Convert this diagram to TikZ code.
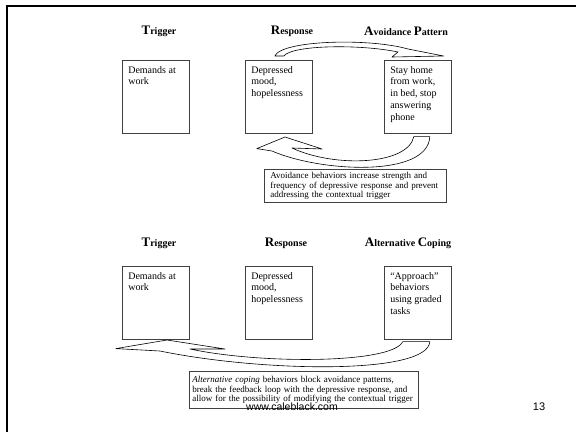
\documentclass[tikz,border=0pt]{standalone}
\usepackage{fontspec}
\setmainfont{Liberation Serif}
\newfontfamily\urlfont{Liberation Sans}
\usetikzlibrary{positioning,calc}

\newcommand{\capl}[1]{{\fontsize{13}{13}\selectfont #1}}
\newcommand{\cardtext}[1]{\parbox[t][61pt][t]{55pt}{\raggedright #1}}

\tikzset{
  head/.style={font=\fontsize{10}{12}\selectfont\bfseries},
  card/.style={draw=black!75, line width=0.6pt, anchor=north west, inner sep=6pt,
    font=\fontsize{10}{11.7}\selectfont},
  note/.style={draw=black!75, line width=0.6pt, anchor=north west, inner xsep=6pt,
    inner ysep=3pt, align=left, font=\fontsize{9}{9.5}\selectfont},
  looparrow/.style={draw=black, line width=0.6pt, fill=white, line join=round},
}

\begin{document}
\begin{tikzpicture}[x=1pt,y=-1pt]
  \useasboundingbox (0,0) rectangle (576,432);
  \draw[line width=2pt] (576,5.5) -- (6.5,5.5) -- (6.5,432);

  \node[head] (trighd1) at (159,31) {\capl{T}rigger};
  \node[head] (resphd1) at (292,31) {\capl{R}esponse};
  \node[head] (avoidhd) at (406,31) {\capl{A}voidance \capl{P}attern};
  \node[card] (trig1) at (122,60) {\cardtext{Demands at\\work}};
  \node[card] (resp1) at (245,60) {\cardtext{Depressed\\mood,\\hopelessness}};
  \node[card] (avoid1) at (384,60) {\cardtext{Stay home\\from work,\\in bed, stop\\answering\\phone}};

  \draw[looparrow] ($(resp1.north)+(-4,-4)$) .. controls (282,40) and (370,38) .. (408,49)
    -- ($(avoid1.north east)+(-8,-4)$) -- (392,57) -- (398,52)
    .. controls (360,44) and (292,45) .. ($(resp1.north)+(5,-4)$) -- cycle;
  \draw[looparrow] ($(resp1.south)+(-22,15)$) -- (285,137) -- (322,149) -- (292,148)
    .. controls (335,168) and (408,165) .. ($(avoid1.south)+(-4,3)$)
    -- ($(avoid1.south)+(12,3)$)
    .. controls (428,178) and (320,172) .. (272,151) -- cycle;

  \node[note, text width=170pt] (note1) at (264,169)
    {Avoidance behaviors increase strength and\\frequency of depressive response and prevent\\addressing the contextual trigger};

  \node[head] (trighd2) at (159,243) {\capl{T}rigger};
  \node[head] (resphd2) at (286,243) {\capl{R}esponse};
  \node[head] (copehd) at (408,243) {\capl{A}lternative \capl{C}oping};
  \node[card] (trig2) at (122,266) {\cardtext{Demands at\\work}};
  \node[card] (resp2) at (245,266) {\cardtext{Depressed\\mood,\\hopelessness}};
  \node[card] (cope2) at (384,266) {\cardtext{``Approach''\\behaviors\\using graded\\tasks}};

  \draw[looparrow] ($(trig2.south)+(-40,9)$) -- (167,340) -- (225,349) -- (190,349)
    .. controls (260,364) and (392,364) .. ($(cope2.south)+(-15,2)$)
    -- ($(cope2.south)+(12,2)$)
    .. controls (428,375) and (262,372) .. (160,351) -- cycle;

  \node[note, text width=223pt, inner xsep=3pt, inner ysep=5pt] (note2) at (189,371)
    {\textit{Alternative coping} behaviors block avoidance patterns,\\break the feedback loop with the depressive response, and\\allow for the possibility of modifying the contextual trigger};

  \node[font=\urlfont\fontsize{10.5}{12}\selectfont, inner sep=0pt] (url) at (292,407) {www.caleblack.com};
  \node[font=\urlfont\fontsize{11}{12}\selectfont, inner sep=0pt] (pgno) at (539,407) {13};
\end{tikzpicture}
\end{document}
